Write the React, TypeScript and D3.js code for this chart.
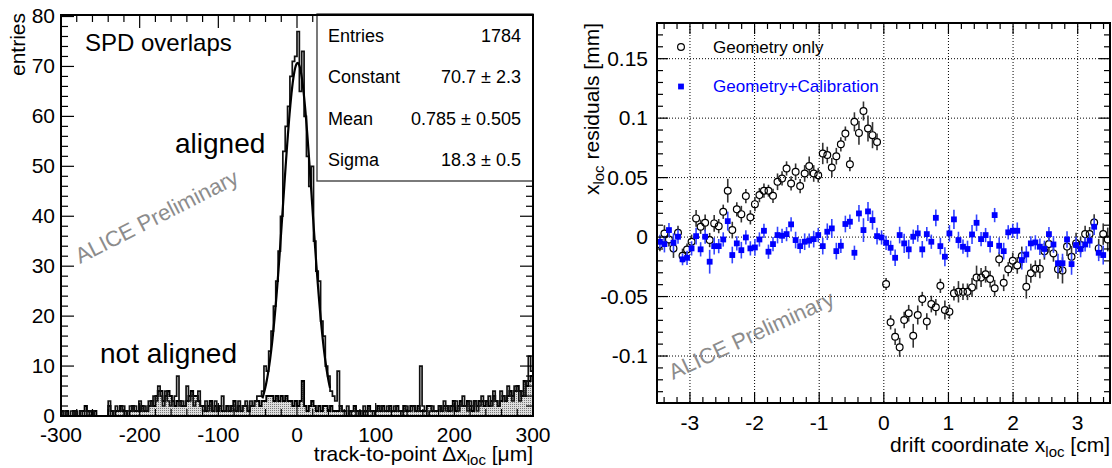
import * as d3 from "d3";
import React, { useEffect, useRef } from "react";

// ---- left panel: SPD overlaps, 3 um bins from -300 to 300 um ----
const histLow = -300;
const histBinWidth = 3;

const alignedCounts = [
  0, 1, 0, 0, 1, 0, 1, 0, 1, 0, 1, 0, 1, 1, 0, 0, 0, 0, 0, 0,
  3, 0, 1, 2, 1, 1, 2, 0, 1, 2, 1, 2, 1, 3, 1, 2, 1, 3, 2, 4,
  3, 6, 4, 2, 5, 3, 2, 3, 4, 8, 2, 3, 2, 6, 3, 4, 2, 3, 5, 2,
  1, 3, 1, 2, 1, 3, 1, 2, 4, 1, 1, 2, 1, 2, 1, 3, 1, 2, 3, 1,
  3, 2, 3, 4, 4, 5, 10, 9, 13, 17, 22, 27, 33, 40, 53, 58, 62, 68, 71, 72,
  77, 65, 73, 60, 52, 46, 50, 35, 29, 27, 19, 16, 10, 8, 5, 4, 3, 9, 2, 1,
  1, 2, 0, 1, 1, 0, 1, 1, 2, 0, 1, 1, 0, 1, 1, 2, 1, 1, 2, 1,
  1, 2, 1, 1, 0, 1, 2, 1, 1, 2, 1, 1, 10, 2, 1, 0, 1, 2, 1, 1,
  2, 1, 3, 1, 2, 1, 2, 3, 1, 2, 4, 2, 1, 3, 2, 3, 1, 2, 4, 3,
  3, 4, 2, 5, 3, 2, 5, 4, 3, 6, 4, 3, 6, 5, 3, 5, 4, 7, 12, 9,
];

const notAlignedCounts = [
  1, 0, 1, 0, 0, 1, 0, 0, 1, 1, 2, 1, 1, 0, 1, 0, 0, 0, 0, 0,
  2, 1, 0, 1, 1, 2, 1, 1, 0, 1, 2, 1, 1, 1, 2, 1, 1, 2, 3, 2,
  4, 5, 5, 3, 4, 5, 4, 3, 2, 3, 3, 2, 2, 3, 4, 5, 4, 4, 3, 2,
  2, 1, 2, 3, 1, 2, 1, 2, 1, 1, 2, 1, 2, 3, 1, 2, 1, 2, 2, 1,
  2, 2, 3, 3, 2, 3, 3, 4, 4, 4, 3, 4, 3, 4, 3, 4, 3, 3, 2, 3,
  2, 3, 7, 2, 1, 2, 3, 2, 1, 2, 1, 2, 2, 1, 2, 1, 1, 1, 2, 1,
  1, 0, 1, 1, 2, 1, 1, 0, 1, 1, 2, 1, 1, 1, 2, 1, 2, 1, 1, 2,
  1, 1, 2, 1, 1, 2, 1, 1, 2, 2, 1, 2, 1, 1, 1, 2, 2, 1, 1, 1,
  2, 1, 2, 2, 1, 2, 3, 1, 2, 3, 2, 2, 3, 2, 1, 3, 2, 3, 3, 2,
  3, 2, 3, 4, 3, 2, 3, 4, 3, 4, 5, 4, 5, 6, 5, 4, 7, 6, 7, 8,
];

// gaussian fit shown in the stats box
const fitConstant = 70.7;
const fitMean = 0.785;
const fitSigma = 18.3;
const fitRange = [-44, 42];

const statsLabels = ["Entries", "Constant", "Mean", "Sigma"];
const statsValues = ["1784", "70.7 \u00b1 2.3", "0.785 \u00b1 0.505", "18.3 \u00b1 0.5"];

const leftXTicks = [-300, -200, -100, 0, 100, 200, 300];
const leftYTicks = [0, 10, 20, 30, 40, 50, 60, 70, 80];

// ---- right panel: residuals vs drift coordinate, 0.07 cm bins ----
const driftLow = -3.5;
const driftBinWidth = 0.07;

const geomOnly = [
  -0.006, 0.003, -0.002, -0.0095, 0.0036, -0.0157, -0.0104, -0.0039, 0.0157, 0.0087,
  0.012, -0.0025, 0.0115, 0.0092, 0.0213, 0.039, 0.0059, 0.0233, 0.0193, 0.0345,
  0.0166, 0.0277, 0.0353, 0.039, 0.039, 0.0347, 0.0465, 0.0493, 0.0577, 0.0451,
  0.0549, 0.0429, 0.0535, 0.0597, 0.0535, 0.052, 0.0703, 0.069, 0.0585, 0.068,
  0.078, 0.087, 0.0613, 0.0969, 0.0876, 0.106, 0.0913, 0.0857, 0.08, null,
  -0.0395, -0.0717, -0.0838, -0.0927, -0.0697, -0.064, -0.083, -0.0655, -0.052, -0.071,
  -0.0563, -0.059, -0.041, -0.0613, -0.0627, -0.0473, -0.046, -0.046, -0.046, -0.0423,
  -0.034, -0.034, -0.0313, -0.0353, -0.043, -0.0187, -0.0384, -0.027, -0.02, -0.0238,
  -0.016, -0.0417, -0.0305, -0.0266, -0.0266, -0.012, -0.0059, -0.0137, -0.027, -0.028,
  -0.008, -0.0165, -0.0053, -0.0067, 0.0025, 0.0025, 0.0123, -0.0095, 0.0025, -0.002,
];

const geomOnlyErr = [
  0.006, 0.007, 0.006, 0.008, 0.006, 0.006, 0.005, 0.006, 0.007, 0.006,
  0.007, 0.006, 0.007, 0.006, 0.006, 0.01, 0.007, 0.006, 0.007, 0.006,
  0.006, 0.006, 0.006, 0.006, 0.005, 0.006, 0.007, 0.006, 0.006, 0.006,
  0.007, 0.006, 0.007, 0.008, 0.007, 0.006, 0.009, 0.007, 0.008, 0.007,
  0.006, 0.006, 0.006, 0.008, 0.01, 0.008, 0.011, 0.011, 0.007, 0,
  0.005, 0.006, 0.007, 0.008, 0.007, 0.007, 0.01, 0.008, 0.006, 0.007,
  0.007, 0.007, 0.006, 0.008, 0.006, 0.006, 0.009, 0.007, 0.007, 0.008,
  0.01, 0.008, 0.007, 0.007, 0.007, 0.006, 0.007, 0.006, 0.007, 0.007,
  0.008, 0.01, 0.008, 0.007, 0.008, 0.007, 0.007, 0.007, 0.008, 0.011,
  0.008, 0.009, 0.009, 0.007, 0.007, 0.006, 0.007, 0.008, 0.009, 0.01,
];

const geomCalib = [
  -0.004, -0.0059, 0.0059, -0.0048, 0.0003, -0.0187, -0.0174, -0.0095, 0.0008, -0.0103,
  0.0003, -0.0207, -0.0076, -0.0076, -0.002, 0.0134, -0.0151, -0.0053, -0.011, -0.0003,
  -0.0095, -0.0087, -0.002, 0.0053, -0.0123, -0.0059, 0.0017, 0.0011, 0.0025, 0.0107,
  -0.0025, -0.0076, -0.0039, -0.003, -0.0017, 0.0017, -0.0076, 0.0045, 0.0073, -0.0118,
  -0.0073, 0.011, 0.0129, -0.0132, 0.0199, 0.0059, 0.0216, 0.0143, 0.0008, -0.0003,
  -0.0048, -0.009, -0.0174, 0.0017, -0.0053, -0.0103, 0.0003, 0.0031, -0.0103, 0.0025,
  -0.0039, 0.0162, -0.0076, -0.0165, 0.0031, 0.0149, -0.0025, -0.0081, -0.01, 0.0022,
  0.012, -0.0017, 0.0017, -0.0059, 0.0185, -0.0073, -0.0118, 0.004, 0.0053, 0.0053,
  -0.0193, -0.0146, -0.0053, -0.0045, -0.0081, -0.01, 0.0025, -0.0062, -0.022, -0.022,
  -0.002, -0.0227, -0.0067, -0.01, -0.0062, -0.003, 0.0087, -0.0132, -0.0151, null,
];

const geomCalibErr = [
  0.006, 0.007, 0.006, 0.008, 0.006, 0.005, 0.006, 0.006, 0.007, 0.006,
  0.006, 0.01, 0.007, 0.006, 0.006, 0.008, 0.007, 0.006, 0.007, 0.006,
  0.006, 0.007, 0.006, 0.006, 0.006, 0.006, 0.007, 0.006, 0.006, 0.006,
  0.007, 0.006, 0.007, 0.006, 0.007, 0.006, 0.007, 0.007, 0.008, 0.007,
  0.006, 0.007, 0.006, 0.006, 0.007, 0.01, 0.008, 0.008, 0.007, 0.006,
  0.006, 0.006, 0.007, 0.007, 0.008, 0.008, 0.006, 0.007, 0.007, 0.006,
  0.006, 0.007, 0.007, 0.008, 0.007, 0.008, 0.007, 0.006, 0.007, 0.008,
  0.007, 0.006, 0.006, 0.007, 0.006, 0.007, 0.007, 0.006, 0.006, 0.007,
  0.008, 0.007, 0.006, 0.006, 0.007, 0.007, 0.006, 0.007, 0.008, 0.008,
  0.007, 0.009, 0.007, 0.007, 0.006, 0.006, 0.007, 0.007, 0.008, 0,
];

const rightXTicks = [-3, -2, -1, 0, 1, 2, 3];
const rightYTicks = [-0.1, -0.05, 0, 0.05, 0.1, 0.15];
const rightYTickLabels = ["-0.1", "-0.05", "0", "0.05", "0.1", "0.15"];
const legendLabels = ["Geometry only", "Geometry+Calibration"];

const FONT = "Liberation Sans, Arial, Helvetica, sans-serif";

const drawLeft = (svg) => {
  const L = { left: 61, right: 533, top: 15, bottom: 416 };
  const x = d3.scaleLinear().domain([-300, 300]).range([L.left, L.right]);
  const y = d3.scaleLinear().domain([0, 80.3]).range([L.bottom, L.top]);

  const defs = svg.append("defs");
  const pat = defs
    .append("pattern")
    .attr("id", "dots")
    .attr("width", 2)
    .attr("height", 2)
    .attr("patternUnits", "userSpaceOnUse");
  pat.append("rect").attr("width", 2).attr("height", 2).attr("fill", "#dedede");
  pat.append("rect").attr("width", 1).attr("height", 1).attr("fill", "#7a7a7a");
  defs
    .append("clipPath")
    .attr("id", "clipL")
    .append("rect")
    .attr("x", L.left)
    .attr("y", L.top)
    .attr("width", L.right - L.left)
    .attr("height", L.bottom - L.top);

  const stepPoints = (counts) => {
    const pts = [[histLow, 0]];
    counts.forEach((c, i) => {
      const x0 = histLow + i * histBinWidth;
      pts.push([x0, c], [x0 + histBinWidth, c]);
    });
    pts.push([histLow + counts.length * histBinWidth, 0]);
    return pts;
  };

  const plot = svg.append("g").attr("clip-path", "url(#clipL)");

  const area = d3
    .area()
    .x((d) => x(d[0]))
    .y0(y(0))
    .y1((d) => y(d[1]));
  const line = d3
    .line()
    .x((d) => x(d[0]))
    .y((d) => y(d[1]));

  const naPts = stepPoints(notAlignedCounts);
  plot.append("path").datum(naPts).attr("d", area).attr("fill", "url(#dots)");
  plot
    .append("path")
    .datum(naPts)
    .attr("d", line)
    .attr("fill", "none")
    .attr("stroke", "#000")
    .attr("stroke-width", 1.9);

  plot
    .append("path")
    .datum(stepPoints(alignedCounts))
    .attr("d", line)
    .attr("fill", "none")
    .attr("stroke", "#111")
    .attr("stroke-width", 1.7);

  const fitPts = d3
    .range(fitRange[0], fitRange[1] + 0.01, 0.5)
    .map((v) => [v, fitConstant * Math.exp(-((v - fitMean) ** 2) / (2 * fitSigma * fitSigma))]);
  plot
    .append("path")
    .datum(fitPts)
    .attr("d", line)
    .attr("fill", "none")
    .attr("stroke", "#000")
    .attr("stroke-width", 2.2);

  // ticks
  const axes = svg.append("g").attr("stroke", "#000").attr("stroke-width", 1.2);
  d3.range(0, 81, 2).forEach((v) => {
    const len = v % 10 === 0 ? 13 : 7;
    axes.append("line").attr("x1", L.left).attr("x2", L.left + len).attr("y1", y(v)).attr("y2", y(v));
    axes.append("line").attr("x1", L.right).attr("x2", L.right - len).attr("y1", y(v)).attr("y2", y(v));
  });
  d3.range(-300, 301, 20).forEach((v) => {
    const len = v % 100 === 0 ? 13 : 7;
    axes.append("line").attr("x1", x(v)).attr("x2", x(v)).attr("y1", L.bottom).attr("y2", L.bottom - len);
    axes.append("line").attr("x1", x(v)).attr("x2", x(v)).attr("y1", L.top).attr("y2", L.top + len);
  });

  // stats box
  const box = svg.append("g");
  box
    .append("rect")
    .attr("x", 317)
    .attr("y", 14)
    .attr("width", L.right - 317)
    .attr("height", 167)
    .attr("fill", "#fff")
    .attr("stroke", "#333")
    .attr("stroke-width", 1.3);
  statsLabels.forEach((s, i) => {
    const by = 42 + i * 41.3;
    box
      .append("text")
      .attr("x", 328)
      .attr("y", by)
      .attr("font-size", 18)
      .attr("font-family", FONT)
      .text(s);
    box
      .append("text")
      .attr("x", 521)
      .attr("y", by)
      .attr("text-anchor", "end")
      .attr("font-size", 18)
      .attr("font-family", FONT)
      .text(statsValues[i]);
  });

  svg
    .append("rect")
    .attr("x", L.left)
    .attr("y", L.top)
    .attr("width", L.right - L.left)
    .attr("height", L.bottom - L.top)
    .attr("fill", "none")
    .attr("stroke", "#000")
    .attr("stroke-width", 2);

  // tick labels
  leftYTicks.forEach((v) => {
    svg
      .append("text")
      .attr("x", 55)
      .attr("y", y(v) + 7)
      .attr("text-anchor", "end")
      .attr("font-size", 21)
      .attr("font-family", FONT)
      .text(v);
  });
  leftXTicks.forEach((v) => {
    svg
      .append("text")
      .attr("x", x(v))
      .attr("y", 442)
      .attr("text-anchor", "middle")
      .attr("font-size", 21)
      .attr("font-family", FONT)
      .text(v);
  });

  svg
    .append("text")
    .attr("transform", "translate(25,13) rotate(-90)")
    .attr("text-anchor", "end")
    .attr("font-size", 21)
    .attr("font-family", FONT)
    .text("entries");

  const xt = svg
    .append("text")
    .attr("x", L.right)
    .attr("y", 461)
    .attr("text-anchor", "end")
    .attr("font-size", 21)
    .attr("font-family", FONT);
  xt.append("tspan").text("track-to-point \u0394x");
  xt.append("tspan").attr("font-size", 15).attr("dy", 4).text("loc");
  xt.append("tspan").attr("dy", -4).text(" [\u03bcm]");

  const label = (tx, ty, size, txt) =>
    svg
      .append("text")
      .attr("x", tx)
      .attr("y", ty)
      .attr("font-size", size)
      .attr("font-family", FONT)
      .text(txt);
  label(85, 51, 24, "SPD overlaps");
  label(175, 153, 28, "aligned");
  label(100, 363, 28, "not aligned");

  svg
    .append("text")
    .attr("transform", "translate(80,264) rotate(-27)")
    .attr("font-size", 22)
    .attr("font-family", FONT)
    .attr("fill", "#8c8c8c")
    .text("ALICE Preliminary");
};

const drawRight = (svg) => {
  const R = { left: 657, right: 1110, top: 23, bottom: 403 };
  const x = d3.scaleLinear().domain([-3.51, 3.5]).range([R.left, R.right]);
  const y = d3.scaleLinear().domain([-0.1395, 0.18]).range([R.bottom, R.top]);

  svg
    .select("defs")
    .append("clipPath")
    .attr("id", "clipR")
    .append("rect")
    .attr("x", R.left)
    .attr("y", R.top)
    .attr("width", R.right - R.left)
    .attr("height", R.bottom - R.top);

  // dotted grid
  const grid = svg
    .append("g")
    .attr("stroke", "#000")
    .attr("stroke-width", 1)
    .attr("stroke-dasharray", "1,2");
  rightXTicks.forEach((v) => {
    grid.append("line").attr("x1", x(v)).attr("x2", x(v)).attr("y1", R.top).attr("y2", R.bottom);
  });
  rightYTicks.forEach((v) => {
    grid.append("line").attr("x1", R.left).attr("x2", R.right).attr("y1", y(v)).attr("y2", y(v));
  });

  svg
    .append("text")
    .attr("transform", "translate(673,380) rotate(-25)")
    .attr("font-size", 22)
    .attr("font-family", FONT)
    .attr("fill", "#8c8c8c")
    .text("ALICE Preliminary");

  const plot = svg.append("g").attr("clip-path", "url(#clipR)");
  const binX = (k) => driftLow + (k + 0.5) * driftBinWidth;

  // geometry only: open circles
  const r = 3.4;
  geomOnly.forEach((v, k) => {
    if (v === null) return;
    const cx = x(binX(k));
    const cy = y(v);
    const e = geomOnlyErr[k];
    const top = y(v + e);
    const bot = y(v - e);
    if (cy - r > top)
      plot.append("line").attr("x1", cx).attr("x2", cx).attr("y1", top).attr("y2", cy - r).attr("stroke", "#333").attr("stroke-width", 1.6);
    if (bot > cy + r)
      plot.append("line").attr("x1", cx).attr("x2", cx).attr("y1", cy + r).attr("y2", bot).attr("stroke", "#333").attr("stroke-width", 1.6);
    plot
      .append("circle")
      .attr("cx", cx)
      .attr("cy", cy)
      .attr("r", r)
      .attr("fill", "none")
      .attr("stroke", "#000")
      .attr("stroke-width", 1.2);
  });

  // geometry + calibration: blue squares
  const s = 5.8;
  geomCalib.forEach((v, k) => {
    if (v === null) return;
    const cx = x(binX(k));
    const e = geomCalibErr[k];
    plot
      .append("line")
      .attr("x1", cx)
      .attr("x2", cx)
      .attr("y1", y(v + e))
      .attr("y2", y(v - e))
      .attr("stroke", "#3344ff")
      .attr("stroke-width", 1.6);
    plot
      .append("rect")
      .attr("x", cx - s / 2)
      .attr("y", y(v) - s / 2)
      .attr("width", s)
      .attr("height", s)
      .attr("fill", "#0000ff");
  });

  // ticks
  const axes = svg.append("g").attr("stroke", "#000").attr("stroke-width", 1.2);
  d3.range(-13, 18).forEach((i) => {
    const v = i / 100;
    const len = i % 5 === 0 ? 11 : 6;
    axes.append("line").attr("x1", R.left).attr("x2", R.left + len).attr("y1", y(v)).attr("y2", y(v));
    axes.append("line").attr("x1", R.right).attr("x2", R.right - len).attr("y1", y(v)).attr("y2", y(v));
  });
  d3.range(-17, 18).forEach((i) => {
    const v = i / 5;
    const len = i % 5 === 0 ? 11 : 6;
    axes.append("line").attr("x1", x(v)).attr("x2", x(v)).attr("y1", R.bottom).attr("y2", R.bottom - len);
    axes.append("line").attr("x1", x(v)).attr("x2", x(v)).attr("y1", R.top).attr("y2", R.top + len);
  });

  svg
    .append("rect")
    .attr("x", R.left)
    .attr("y", R.top)
    .attr("width", R.right - R.left)
    .attr("height", R.bottom - R.top)
    .attr("fill", "none")
    .attr("stroke", "#000")
    .attr("stroke-width", 2);

  // legend
  svg
    .append("circle")
    .attr("cx", 681)
    .attr("cy", 47)
    .attr("r", r)
    .attr("fill", "none")
    .attr("stroke", "#000")
    .attr("stroke-width", 1.2);
  svg
    .append("rect")
    .attr("x", 681 - s / 2)
    .attr("y", 86.5 - s / 2)
    .attr("width", s)
    .attr("height", s)
    .attr("fill", "#0000ff");
  svg
    .append("text")
    .attr("x", 713)
    .attr("y", 53)
    .attr("font-size", 17)
    .attr("font-family", FONT)
    .text(legendLabels[0]);
  svg
    .append("text")
    .attr("x", 713)
    .attr("y", 92)
    .attr("font-size", 17)
    .attr("font-family", FONT)
    .attr("fill", "#0000ff")
    .text(legendLabels[1]);

  // tick labels
  rightYTicks.forEach((v, i) => {
    svg
      .append("text")
      .attr("x", 648)
      .attr("y", y(v) + 7)
      .attr("text-anchor", "end")
      .attr("font-size", 21)
      .attr("font-family", FONT)
      .text(rightYTickLabels[i]);
  });
  rightXTicks.forEach((v) => {
    svg
      .append("text")
      .attr("x", x(v))
      .attr("y", 430)
      .attr("text-anchor", "middle")
      .attr("font-size", 21)
      .attr("font-family", FONT)
      .text(v);
  });

  const yt = svg
    .append("text")
    .attr("transform", "translate(599,23) rotate(-90)")
    .attr("text-anchor", "end")
    .attr("font-size", 21)
    .attr("font-family", FONT);
  yt.append("tspan").text("x");
  yt.append("tspan").attr("font-size", 15).attr("dy", 5).text("loc");
  yt.append("tspan").attr("dy", -5).text(" residuals [mm]");

  const xt = svg
    .append("text")
    .attr("x", R.right)
    .attr("y", 452)
    .attr("text-anchor", "end")
    .attr("font-size", 21)
    .attr("font-family", FONT);
  xt.append("tspan").text("drift coordinate x");
  xt.append("tspan").attr("font-size", 15).attr("dy", 5).text("loc");
  xt.append("tspan").attr("dy", -5).text(" [cm]");
};

const App = () => {
  const svgRef = useRef(null);

  useEffect(() => {
    if (!svgRef.current) return;
    const svg = d3.select(svgRef.current);
    svg.selectAll("*").remove();
    drawLeft(svg);
    drawRight(svg);
  }, []);

  return (
    <div style={{ position: "absolute", left: 0, top: 0 }}>
      <svg ref={svgRef} width={1112} height={468} style={{ display: "block", background: "#fff" }} />
    </div>
  );
};

export default App;
